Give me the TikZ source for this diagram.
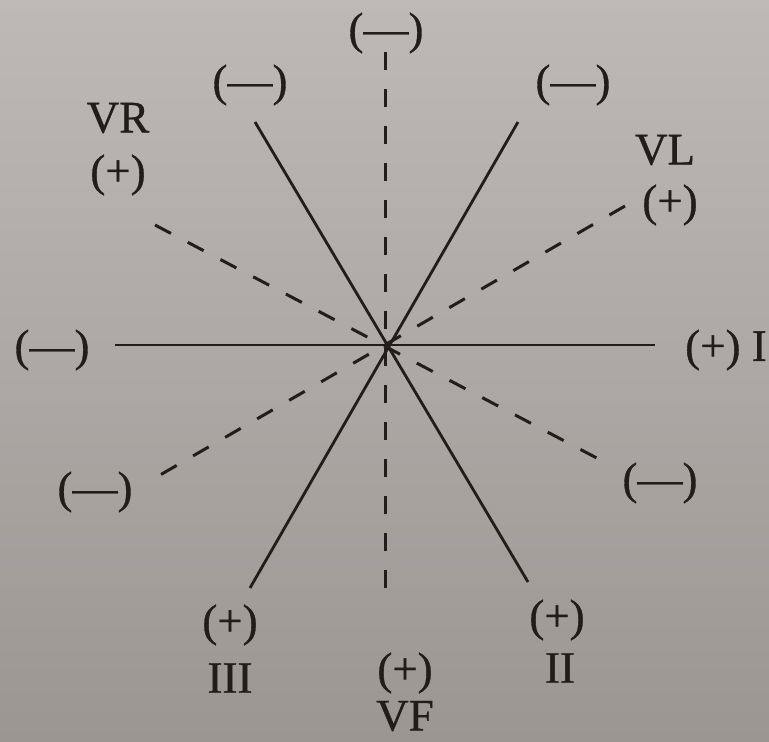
\documentclass[tikz,border=0pt]{standalone}
\usepackage{fontspec}
\setmainfont{Liberation Serif}
\newfontfamily\lblfont{Liberation Serif}[FakeBold=0.8]
\definecolor{papertop}{RGB}{190,185,183}
\definecolor{paperbot}{RGB}{156,150,147}
\definecolor{ink}{RGB}{34,28,26}
\begin{document}
\begin{tikzpicture}[x=1pt,y=-1pt,
  lbl/.style={text=ink,inner sep=0pt,font=\lblfont\fontsize{45}{50}\selectfont},
  solidaxis/.style={draw=ink,line width=2.8pt},
  dashaxis/.style={draw=ink,line width=3pt,dash pattern=on 18pt off 19pt}]
\shade[top color=papertop,bottom color=paperbot] (0,0) rectangle (769,742);
\useasboundingbox (0,0) rectangle (769,742);
\coordinate (C) at (385,345);
\coordinate (Hl) at (115,345);
\coordinate (Hr) at (655,345);
\coordinate (Vt) at (385,52);
\coordinate (Vb) at (385,605);
\coordinate (Aul) at (255,122);
\coordinate (Alr) at (528,582);
\coordinate (Bur) at (518,122);
\coordinate (Bll) at (250,588);
\coordinate (Rul) at (155,225);
\coordinate (Rlr) at (610,465);
\coordinate (Lur) at (625,206);
\coordinate (Lll) at (148,482);
\draw[solidaxis] (Hl) -- (Hr);
\draw[solidaxis] (Aul) -- (Alr);
\draw[solidaxis] (Bur) -- (Bll);
\draw[dashaxis] (Vt) -- (Vb);
\draw[dashaxis] (Rul) -- (Rlr);
\draw[dashaxis] (Lur) -- (Lll);
\node[lbl] (t1) at (386,33) {(—)};
\node[lbl] (t2) at (250,85) {(—)};
\node[lbl] (t3) at (573,85) {(—)};
\node[lbl] (vr) at (118,118) {VR};
\node[lbl] (vrp) at (118,175) {(+)};
\node[lbl] (vl) at (665,150) {VL};
\node[lbl] (vlp) at (670,205) {(+)};
\node[lbl] (lm) at (52,350) {(—)};
\node[lbl] (ip) at (726,350) {(+) I};
\node[lbl] (llm) at (95,492) {(—)};
\node[lbl] (lrm) at (660,483) {(—)};
\node[lbl] (p3) at (230,625) {(+)};
\node[lbl] (n3) at (230,678) {III};
\node[lbl] (pf) at (405,673) {(+)};
\node[lbl] (nf) at (405,716) {VF};
\node[lbl] (p2) at (557,620) {(+)};
\node[lbl] (n2) at (560,668) {II};
\end{tikzpicture}
\end{document}
